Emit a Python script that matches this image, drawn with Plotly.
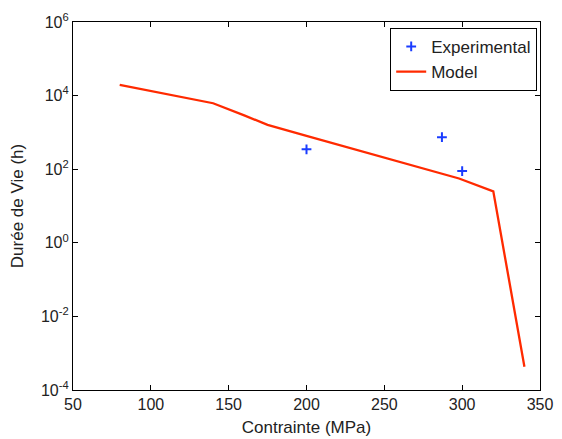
import plotly.graph_objects as go

# Data
exp_stress = [200, 287, 300]
exp_life = [347, 740, 89]

model_stress = [80, 100, 120, 140, 160, 175, 200, 225, 250, 275, 298, 320, 340]
model_life = [1.95e4, 1.32e4, 9.1e3, 6.2e3, 2.9e3, 1.6e3, 810, 410, 210, 105, 56, 25, 4.3e-4]

x_ticks = [50, 100, 150, 200, 250, 300, 350]
y_tickvals = [1e-4, 1e-2, 1e0, 1e2, 1e4, 1e6]
y_ticktext = ["10<sup>-4</sup>", "10<sup>-2</sup>", "10<sup>0</sup>", "10<sup>2</sup>", "10<sup>4</sup>", "10<sup>6</sup>"]

FONT = "Liberation Sans, Arial, sans-serif"

fig = go.Figure()
fig.add_trace(go.Scatter(
    x=exp_stress, y=exp_life, mode="markers", name="Experimental",
    marker=dict(symbol="cross-thin", size=7, color="#1a3cff",
                line=dict(width=2, color="#1a3cff")),
))
fig.add_trace(go.Scatter(
    x=model_stress, y=model_life, mode="lines", name="Model",
    line=dict(color="#ff2a00", width=2.3),
))

axis_common = dict(
    showline=True, linecolor="black", linewidth=1.2, mirror="ticks",
    ticks="inside", ticklen=5, tickwidth=1.2, tickcolor="black",
    showgrid=False, zeroline=False, automargin=False,
    tickfont=dict(family=FONT, size=16, color="#222"),
)

fig.update_xaxes(range=[50, 350], tickvals=x_ticks,
                 title=dict(text="Contrainte (MPa)", standoff=8,
                            font=dict(family=FONT, size=17, color="#222")),
                 **axis_common)
fig.update_yaxes(type="log", range=[-4, 6], tickvals=y_tickvals, ticktext=y_ticktext,
                 title=dict(text="Durée de Vie (h)", standoff=13,
                            font=dict(family=FONT, size=17, color="#222")),
                 **axis_common)

fig.update_layout(
    width=562, height=439,
    margin=dict(l=65, r=30, t=14, b=57),
    paper_bgcolor="white", plot_bgcolor="white",
    showlegend=True,
    legend=dict(x=0.994, y=0.984, xanchor="right", yanchor="top",
                bgcolor="white", bordercolor="black", borderwidth=1,
                font=dict(family=FONT, size=17, color="#222"),
                tracegroupgap=0, itemwidth=30),
)

fig.write_html("out.html")
